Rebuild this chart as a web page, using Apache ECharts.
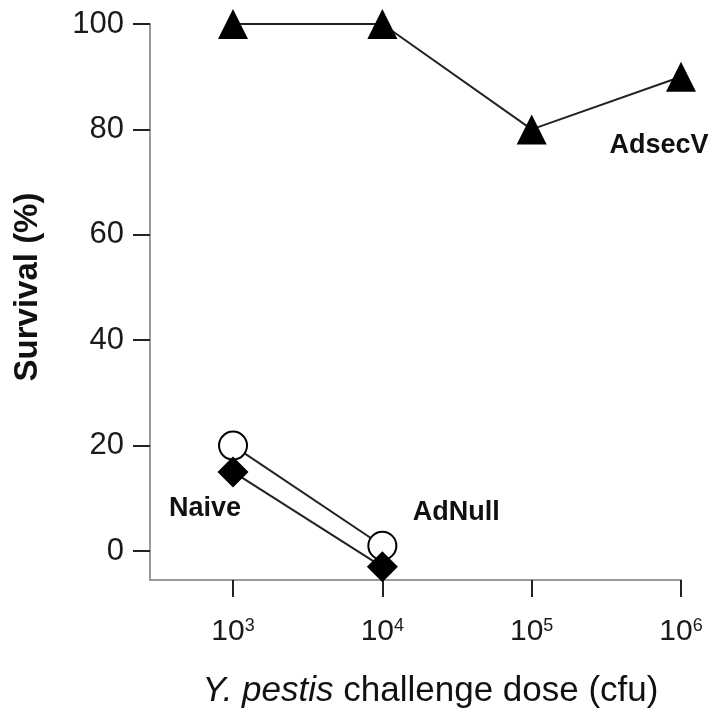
<!DOCTYPE html>
<html>
<head>
<meta charset="utf-8">
<title>Survival</title>
<script src="https://cdn.jsdelivr.net/npm/echarts@6.0.0/dist/echarts.min.js"></script>
<style>
  html, body { margin: 0; padding: 0; background: #fff; }
  #chart { width: 720px; height: 716px; }
</style>
</head>
<body>
<div id="chart"></div>
<script>
// 剂量 (log10 cfu)
var doses = [3, 4, 5, 6];
var yTicks = [0, 20, 40, 60, 80, 100];

// 存活率 (%)
var adsecV = [100, 100, 80, 90];
var adNull = [20, 1];
var naive = [15, -3];

var font = "Liberation Sans, Arial, sans-serif";

// 把数值和剂量拼成点, 指定一个点带上系列名标签
function makeData(values, labelIndex, offset) {
  return values.map(function (v, i) {
    var item = { value: [doses[i], v] };
    if (i === labelIndex) {
      item.label = {
        show: true,
        position: "inside",
        offset: offset,
        formatter: "{a}",
        fontFamily: font,
        fontWeight: "bold",
        fontSize: 27,
        color: "#111"
      };
    }
    return item;
  });
}

var chart = echarts.init(document.getElementById("chart"));
chart.setOption({
  animation: false,
  // 关掉 v6 的外边界自动收缩, 直接用像素定位
  grid: { left: 150, right: 39, top: 24, bottom: 136, containLabel: false, outerBoundsMode: "none" },
  xAxis: {
    type: "value",
    min: 2.444,
    max: 6,
    splitLine: { show: false },
    axisLine: { onZero: false, lineStyle: { color: "#999", width: 2 } },
    axisTick: { customValues: doses, length: 17, lineStyle: { color: "#222", width: 2 } },
    axisLabel: {
      customValues: doses,
      margin: 37,
      formatter: function (v) { return "{b|10}{s|" + v + "}"; },
      rich: {
        b: { fontFamily: font, fontSize: 30, color: "#1a1a1a" },
        s: { fontFamily: font, fontSize: 18, color: "#1a1a1a", verticalAlign: "top" }
      }
    },
    name: "{i|Y. pestis} challenge dose (cfu)",
    nameLocation: "middle",
    nameGap: 94,
    nameTextStyle: {
      fontFamily: font,
      fontSize: 35,
      color: "#111",
      padding: [0, 0, 0, 30],
      rich: {
        i: { fontFamily: font, fontSize: 35, fontStyle: "italic", color: "#111" }
      }
    }
  },
  yAxis: {
    type: "value",
    min: -5.5,
    max: 100,
    splitLine: { show: false },
    axisLine: { show: true, onZero: false, lineStyle: { color: "#999", width: 2 } },
    axisTick: { show: true, customValues: yTicks, length: 17, lineStyle: { color: "#222", width: 2 } },
    axisLabel: {
      customValues: yTicks,
      margin: 26,
      fontFamily: font,
      fontSize: 31,
      color: "#1a1a1a"
    },
    name: "Survival (%)",
    nameLocation: "middle",
    nameRotate: 90,
    nameGap: 106,
    nameTextStyle: {
      fontFamily: font,
      fontWeight: "bold",
      fontSize: 33,
      color: "#111",
      padding: [0, 0, 0, 30]
    }
  },
  series: [
    {
      name: "AdsecV",
      type: "line",
      symbol: "triangle",
      symbolSize: 30,
      itemStyle: { color: "#000" },
      lineStyle: { color: "#222", width: 2 },
      data: makeData(adsecV, 3, [-22, 69])
    },
    {
      name: "AdNull",
      type: "line",
      symbol: "circle",
      symbolSize: 28,
      itemStyle: { color: "#fff", borderColor: "#000", borderWidth: 2 },
      lineStyle: { color: "#222", width: 2 },
      data: makeData(adNull, 1, [74, -33])
    },
    {
      name: "Naive",
      type: "line",
      symbol: "diamond",
      symbolSize: 31,
      itemStyle: { color: "#000" },
      lineStyle: { color: "#222", width: 2 },
      data: makeData(naive, 0, [-28, 37])
    }
  ]
});
</script>
</body>
</html>
